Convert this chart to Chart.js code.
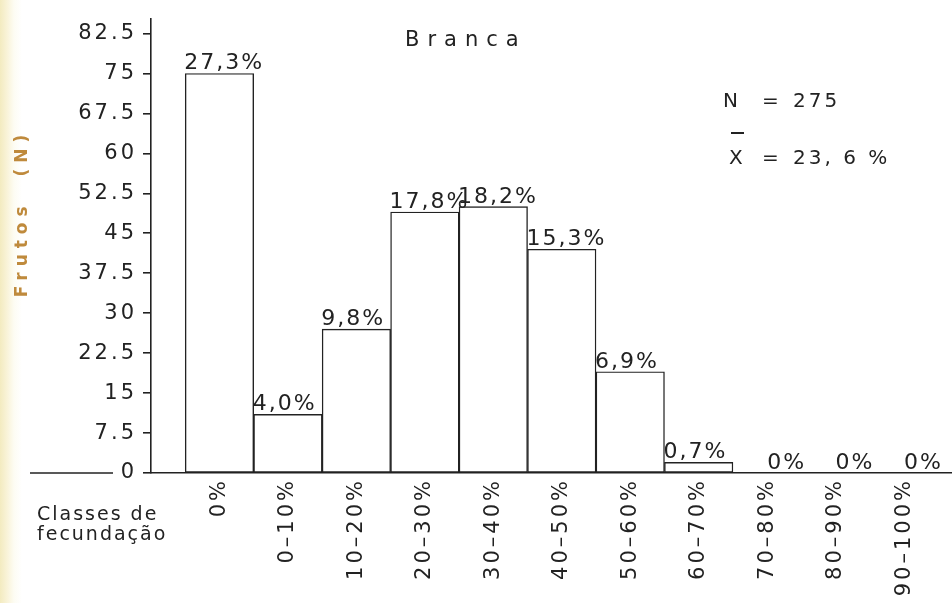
<!DOCTYPE html>
<html>
<head>
<meta charset="utf-8">
<script src="https://cdn.jsdelivr.net/npm/chart.js@4/dist/chart.umd.min.js"></script>
<style>
  html, body { margin: 0; padding: 0; }
  body {
    width: 952px; height: 603px; overflow: hidden;
    background: linear-gradient(to right, #f3ebc0 0px, #f9f3d8 7px, #fdfcf3 14px, #ffffff 22px);
  }
  canvas { display: block; }
</style>
</head>
<body>
<canvas id="c" width="952" height="603"></canvas>
<script>
// Fecundity classes (x axis) and number of fruits in each class
const classes = ['0%', '0–10%', '10–20%', '20–30%', '30–40%', '40–50%', '50–60%', '60–70%', '70–80%', '80–90%', '90–100%'];
const classMid = [0, 5, 15, 25, 35, 45, 55, 65, 75, 85, 95];
const frutos = [75, 11, 27, 49, 50, 42, 19, 2, 0, 0, 0];
const yTicks = [0, 7.5, 15, 22.5, 30, 37.5, 45, 52.5, 60, 67.5, 75, 82.5];
const title = 'Branca';
const yTitle = 'Frutos  (N)';
const xTitle = ['Classes de', 'fecundação'];

const totalN = frutos.reduce((a, b) => a + b, 0);
const meanPct = frutos.reduce((s, v, i) => s + v * classMid[i], 0) / totalN;
const fmtPct = v => (v === 0 ? '0' : v.toFixed(1).replace('.', ',')) + '%';
const pctLabels = frutos.map(v => fmtPct(v / totalN * 100));

const INK = '#222222';
const FONT = '"DejaVu Sans", sans-serif';

const spacing = {
  id: 'spacing',
  beforeUpdate(chart) { chart.ctx.letterSpacing = '3px'; },
  beforeDraw(chart) { chart.ctx.letterSpacing = '3px'; }
};

const overlay = {
  id: 'overlay',
  afterDraw(chart) {
    const ctx = chart.ctx;
    const y = chart.scales.y;
    const y0 = y.getPixelForValue(0);
    ctx.save();
    ctx.fillStyle = INK;
    ctx.strokeStyle = INK;

    // baseline continues to the left of the value axis
    ctx.lineWidth = 1.6;
    ctx.beginPath();
    ctx.moveTo(30, y0);
    ctx.lineTo(113, y0);
    ctx.stroke();

    // percentage over each bar
    ctx.font = '22px ' + FONT;
    ctx.letterSpacing = '2px';
    ctx.textAlign = 'left';
    ctx.textBaseline = 'alphabetic';
    const bars = chart.getDatasetMeta(0).data;
    bars.forEach((bar, i) => {
      const left = frutos[i] === 0 ? bar.x : bar.x - bar.width / 2 - 1;
      ctx.fillText(pctLabels[i], left, bar.y - 4);
    });

    // title
    ctx.font = '21px ' + FONT;
    ctx.letterSpacing = '8px';
    ctx.fillText(title, 405, 46);

    // N and mean
    ctx.font = '20px ' + FONT;
    ctx.letterSpacing = '3px';
    ctx.fillText('N', 723, 107);
    ctx.fillText('=', 762, 107);
    ctx.fillText(String(totalN), 793, 107);
    ctx.fillText('X', 729, 164);
    ctx.fillText('=', 762, 164);
    ctx.fillText(meanPct.toFixed(1).replace('.', ', ') + ' %', 793, 164);
    ctx.lineWidth = 2;
    ctx.beginPath();
    ctx.moveTo(731, 133);
    ctx.lineTo(744, 133);
    ctx.stroke();

    // axis titles
    ctx.font = '19px ' + FONT;
    ctx.letterSpacing = '2px';
    ctx.fillText(xTitle[0], 37, 520);
    ctx.fillText(xTitle[1], 37, 540);

    ctx.save();
    ctx.translate(27, 213);
    ctx.rotate(-Math.PI / 2);
    ctx.fillStyle = '#bf8a3c';
    ctx.font = 'bold 17px ' + FONT;
    ctx.letterSpacing = '6px';
    ctx.textAlign = 'center';
    ctx.fillText(yTitle, 0, 0);
    ctx.restore();

    ctx.restore();
  }
};

new Chart(document.getElementById('c'), {
  type: 'bar',
  data: {
    datasets: [{
      data: frutos.map((v, i) => ({ x: i, y: v })),
      backgroundColor: '#ffffff',
      borderColor: INK,
      borderWidth: 1.4,
      borderSkipped: false,
      barPercentage: 1,
      categoryPercentage: 1
    }]
  },
  options: {
    responsive: false,
    animation: false,
    layout: { padding: { left: 0, top: 13, right: 0, bottom: 0 } },
    plugins: { legend: { display: false }, tooltip: { enabled: false } },
    scales: {
      x: {
        type: 'linear',
        offset: false,
        min: -1,
        max: 10.7,
        afterBuildTicks: s => { s.ticks = classes.map((_, i) => ({ value: i })); },
        afterFit: s => { s.height = 130; },
        ticks: {
          callback: v => classes[v],
          autoSkip: false,
          minRotation: 90,
          maxRotation: 90,
          padding: 5,
          color: INK,
          font: { family: FONT, size: 21 }
        },
        grid: { display: false, drawTicks: false, offset: false },
        border: { display: true, color: INK, width: 1.6 }
      },
      y: {
        min: 0,
        max: 85.3,
        afterBuildTicks: s => { s.ticks = yTicks.map(v => ({ value: v })); },
        afterFit: s => { s.width = 151; },
        ticks: {
          callback: v => String(v),
          padding: 6,
          color: INK,
          font: { family: FONT, size: 21 }
        },
        grid: { drawOnChartArea: false, drawTicks: true, tickLength: 8, color: INK, lineWidth: 1.6 },
        border: { color: INK, width: 1.6 }
      }
    }
  },
  plugins: [spacing, overlay]
});
</script>
</body>
</html>
